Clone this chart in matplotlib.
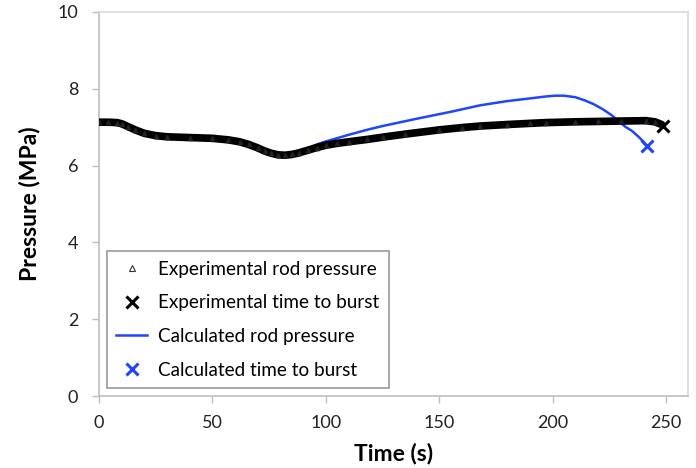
import matplotlib.pyplot as plt
from matplotlib.lines import Line2D

plt.rcParams['font.family'] = ['Lato', 'DejaVu Sans']

# experimental rod pressure (s, MPa)
exp_time = [0, 4, 8, 10, 13, 16, 20, 25, 30, 40, 50, 57, 62, 66, 70, 73, 76, 79, 82, 85,
            88, 92, 96, 100, 105, 110, 118, 125, 135, 150, 160, 168, 180, 190, 197,
            210, 220, 230, 241, 245, 248]
exp_pres = [7.13, 7.13, 7.12, 7.09, 7.01, 6.93, 6.84, 6.78, 6.75, 6.73, 6.71, 6.67, 6.62,
            6.55, 6.46, 6.38, 6.32, 6.28, 6.27, 6.29, 6.33, 6.40, 6.47, 6.53, 6.58, 6.62,
            6.68, 6.74, 6.82, 6.93, 6.99, 7.03, 7.07, 7.10, 7.12, 7.14, 7.15, 7.16, 7.17,
            7.14, 7.07]

# calculated rod pressure
calc_time = [80, 84, 88, 92, 96, 100, 103, 110, 118, 125, 140, 155, 168, 180, 190, 197,
             201, 205, 210, 214, 218, 222, 226, 229, 232, 235, 238, 240, 241.4]
calc_pres = [6.28, 6.30, 6.37, 6.45, 6.55, 6.63, 6.68, 6.80, 6.93, 7.03, 7.22, 7.40,
             7.57, 7.68, 7.75, 7.80, 7.82, 7.82, 7.78, 7.70, 7.60, 7.47, 7.31, 7.16,
             7.01, 6.90, 6.74, 6.62, 6.50]

# times to burst
exp_burst = (248.5, 7.03)
calc_burst = (241.4, 6.50)

blue = '#1f45ff'

fig = plt.figure(figsize=(6.96, 4.68), dpi=100)
ax = fig.add_axes([0.1422, 0.1538, 0.8463, 0.8206])

ax.plot(calc_time, calc_pres, color=blue, lw=1.8, zorder=2)
ax.plot(exp_time, exp_pres, color='black', lw=5.5, solid_capstyle='round', zorder=3)
ax.plot(exp_time, exp_pres, ls='none', marker='^', ms=3, color='#222222', zorder=4)
ax.plot(*exp_burst, marker='x', color='black', ms=9, mew=2.2, ls='none', zorder=5)
ax.plot(*calc_burst, marker='x', color=blue, ms=9, mew=2.2, ls='none', zorder=5)

ax.set_xlim(0, 259.6)
ax.set_ylim(0, 10)
ax.set_xticks([0, 50, 100, 150, 200, 250])
ax.set_yticks([0, 2, 4, 6, 8, 10])
ax.tick_params(direction='out', length=5, width=1, color='#bfbfbf', labelsize=13,
               labelcolor='#222222')
ax.tick_params(axis='x', pad=9)
ax.tick_params(axis='y', pad=10)
for side in ['left', 'bottom']:
    ax.spines[side].set_color('#bfbfbf')
for side in ['top', 'right']:
    ax.spines[side].set_color('#d9d9d9')
for s in ax.spines.values():
    s.set_linewidth(1.2)

ax.set_xlabel('Time (s)', fontsize=16.5, fontweight='bold', labelpad=8)
ax.set_ylabel('Pressure (MPa)', fontsize=16.5, fontweight='bold', labelpad=12)

handles = [
    Line2D([], [], ls='none', marker='^', ms=4, mfc='white', mec='#333333', mew=0.8),
    Line2D([], [], ls='none', marker='x', ms=9, mew=2.2, color='black'),
    Line2D([], [], color=blue, lw=1.8),
    Line2D([], [], ls='none', marker='x', ms=9, mew=2.2, color=blue),
]
labels = ['Experimental rod pressure', 'Experimental time to burst',
          'Calculated rod pressure', 'Calculated time to burst']
leg = ax.legend(handles, labels, loc='lower left', bbox_to_anchor=(0.0136, 0.021),
                borderaxespad=0, fancybox=False, fontsize=13.6, labelspacing=0.88,
                handlelength=1.6, handletextpad=0.6, borderpad=0.5, framealpha=1)
leg.get_frame().set_edgecolor('#999999')
leg.get_frame().set_linewidth(1.2)

fig.savefig('out.png', dpi=100)
